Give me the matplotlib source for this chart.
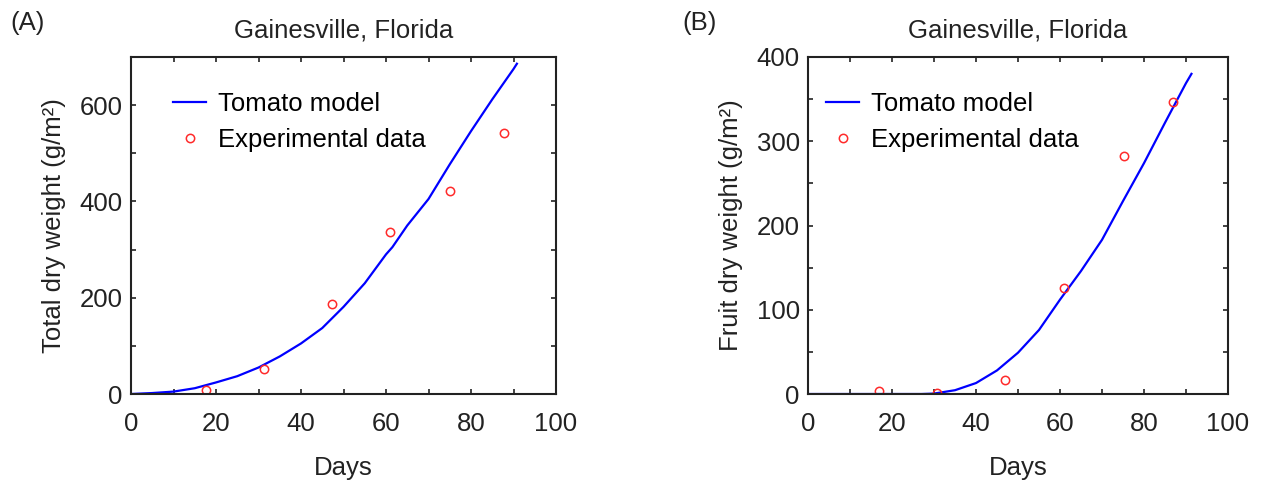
import numpy as np
import matplotlib.pyplot as plt
from matplotlib.ticker import MultipleLocator

plt.rcParams['font.family'] = ['Liberation Sans', 'DejaVu Sans']

# panel A - total dry weight
model_days_a = [0, 5, 10, 15, 20, 25, 30, 35, 40, 45, 50, 55, 60, 61.5,
                65, 70, 75, 80, 85, 90, 90.8]
model_total = [0, 2, 5, 12, 24, 37, 55, 78, 105, 137, 181, 230, 290, 305,
               350, 405, 477, 546, 612, 675, 686]
exp_days_a = [17.7, 31.2, 47.2, 60.9, 75.1, 87.8]
exp_total = [9, 52, 186, 336, 421, 543]

# panel B - fruit dry weight
model_days_b = [0, 10, 20, 27, 30, 35, 40, 45, 50, 55, 60, 65, 70, 75, 80,
                85, 90, 91.3]
model_fruit = [0, 0, 0, 0, 0.5, 4.5, 13, 28, 49, 76, 112, 146, 183, 229, 274,
               322, 369, 380]
exp_days_b = [16.8, 30.7, 46.8, 60.9, 75.3, 87.0]
exp_fruit = [3, 1, 17, 126, 282, 347]

FS = 18.5

fig = plt.figure(figsize=(12.7, 4.82), dpi=100)
ax1 = fig.add_axes([131 / 1270, 1 - 394 / 482, 425 / 1270, 337 / 482])
ax2 = fig.add_axes([808 / 1270, 1 - 394 / 482, 420 / 1270, 337 / 482])


def style(ax, ymax, ymaj, ymin, ylabel, leg_x):
    ax.set_xlim(0, 100)
    ax.set_ylim(0, ymax)
    ax.xaxis.set_major_locator(MultipleLocator(20))
    ax.xaxis.set_minor_locator(MultipleLocator(10))
    ax.yaxis.set_major_locator(MultipleLocator(ymaj))
    ax.yaxis.set_minor_locator(MultipleLocator(ymin))
    ax.tick_params(which='both', direction='in', top=True, right=True,
                   length=3.5, width=1.2, labelsize=FS, colors='#222222')
    ax.tick_params(axis='y', pad=6)
    ax.tick_params(axis='x', pad=13)
    for s in ax.spines.values():
        s.set_linewidth(1.5)
        s.set_color('#222222')
    ax.set_xlabel('Days', fontsize=FS, labelpad=14, color='#222222')
    ax.set_ylabel(ylabel, fontsize=FS, labelpad=10, color='#222222')
    ax.set_title('Gainesville, Florida', fontsize=FS, pad=14, color='#222222')
    ax.legend(loc='upper left', bbox_to_anchor=(leg_x, 0.895), frameon=False,
              fontsize=FS, handlelength=1.3, handletextpad=0.45,
              labelspacing=0.45, borderaxespad=0, borderpad=0)


ax1.plot(model_days_a, model_total, color='#0000ff', lw=1.6, label='Tomato model')
ax1.plot(exp_days_a, exp_total, 'o', ms=6, mfc='none', mec='#ff2a2a', mew=1.1,
         label='Experimental data')
style(ax1, 700, 200, 100, 'Total dry weight (g/m²)', 0.099)

ax2.plot(model_days_b, model_fruit, color='#0000ff', lw=1.6, label='Tomato model')
ax2.plot(exp_days_b, exp_fruit, 'o', ms=6, mfc='none', mec='#ff2a2a', mew=1.1,
         label='Experimental data')
style(ax2, 400, 100, 50, 'Fruit dry weight (g/m²)', 0.043)

fig.text(10 / 1270, 1 - 23 / 482, '(A)', fontsize=FS, va='center', color='#222222')
fig.text(682 / 1270, 1 - 23 / 482, '(B)', fontsize=FS, va='center', color='#222222')

fig.savefig('out.png', dpi=100)
